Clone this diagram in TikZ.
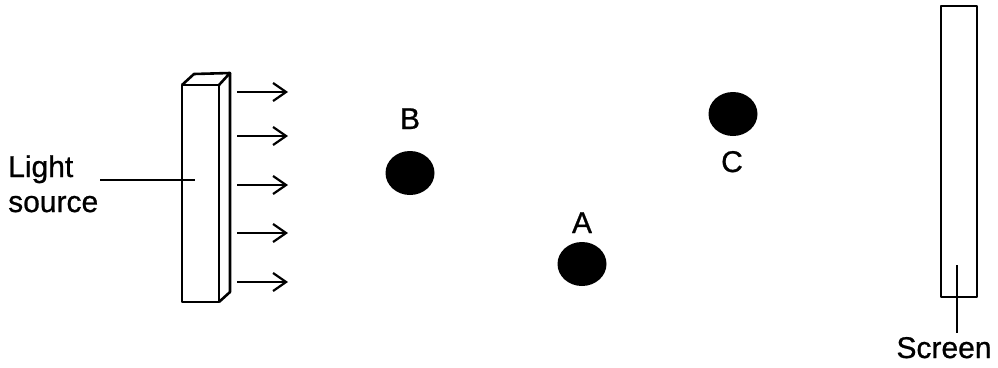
\documentclass[tikz,border=0pt]{standalone}
\usepackage{fontspec}
\setmainfont{Liberation Sans}[UprightFeatures={FakeBold=0.8}]
\usetikzlibrary{arrows.meta,shapes.geometric}
\begin{document}
\begin{tikzpicture}[x=1pt,y=-1pt,
  edge/.style={line width=2.6pt,line join=round},
  ray/.style={line width=2.2pt,-{Straight Barb[length=13pt,width=18pt,line width=2.2pt]}},
  lbl/.style={font=\fontsize{30}{36}\selectfont,inner sep=0pt},
  ball/.style={fill=black,ellipse,minimum width=49pt,minimum height=44pt,inner sep=0pt}]
\useasboundingbox (0,0) rectangle (998,367);
% light source box
\draw[edge] (182,85) rectangle (219,302);
\draw[edge] (182,85) -- (194,74) -- (230,73) -- (219,85);
\draw[edge] (230,73) -- (230,292) -- (219,302);
\coordinate (lsin) at (195,180);
% rays
\foreach \y [count=\i] in {92,136,185,233,282}{
  \coordinate (s\i) at (237,\y);
  \coordinate (e\i) at (288,\y);
  \draw[ray] (s\i) -- (e\i);
}
% label
\node[lbl,anchor=base west] (light) at (8,177) {Light};
\node[lbl,anchor=base west] (source) at (8,212) {source};
\coordinate (lsout) at (100,180);
\draw[line width=2.2pt] (lsout) -- (lsin);
% balls
\node[ball] (B) at (410,173) {};
\node[ball] (A) at (582,264) {};
\node[ball] (C) at (733,114) {};
\node[lbl,anchor=base] (lB) at (410,129) {B};
\node[lbl,anchor=base] (lA) at (582,233) {A};
\node[lbl,anchor=base] (lC) at (732,172) {C};
% screen
\draw[edge] (941,6) rectangle (977,297);
\coordinate (st) at (957,265);
\coordinate (sb) at (957,333);
\draw[line width=2.2pt] (st) -- (sb);
\node[lbl,anchor=base] (screen) at (944,358) {Screen};
\end{tikzpicture}
\end{document}
